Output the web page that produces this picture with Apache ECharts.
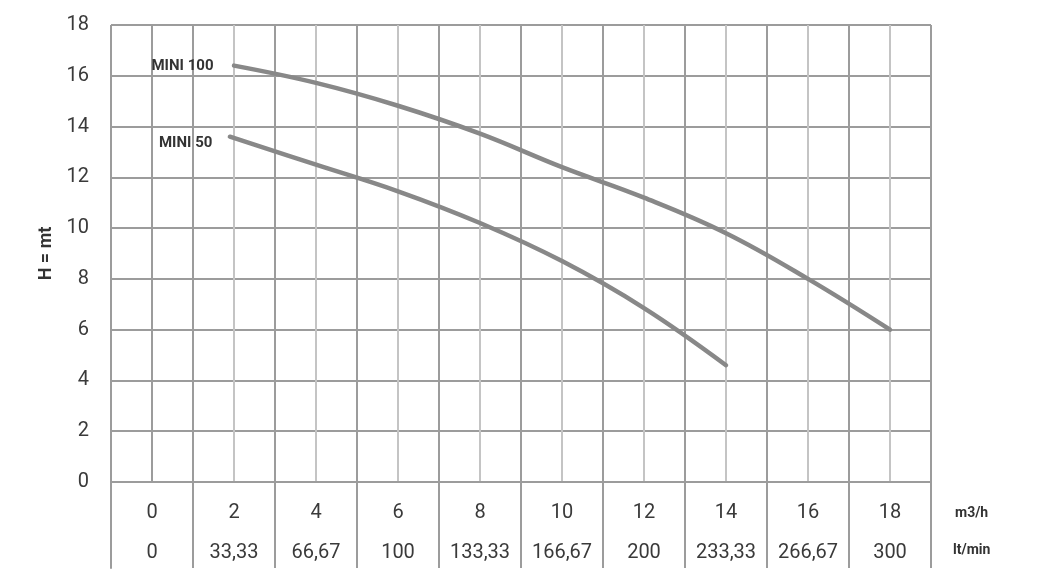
<!DOCTYPE html>
<html>
<head>
<meta charset="utf-8">
<script src="https://cdn.jsdelivr.net/npm/echarts@6/dist/echarts.min.js"></script>
<style>
html,body{margin:0;padding:0;background:#fff;}
#c{width:1053px;height:586px;}
</style>
</head>
<body>
<div id="c"></div>
<script>
// ---- data ----
const flowM3h = ['0','2','4','6','8','10','12','14','16','18'];
const flowLtMin = ['0','33,33','66,67','100','133,33','166,67','200','233,33','266,67','300'];
const seriesNames = ['MINI 100', 'MINI 50'];
const mini100Q = [2, 4, 6, 8, 10, 12, 14, 16, 18];
const mini100H = [16.4, 15.72, 14.82, 13.72, 12.4, 11.2, 9.8, 8.0, 6.0];
const mini50Q = [1.9, 4, 6, 8, 10, 12, 14];
const mini50H = [13.6, 12.5, 11.45, 10.2, 8.7, 6.85, 4.6];
const unitM3h = 'm3/h';
const unitLtMin = 'lt/min';
const yTitle = 'H = mt';

const FONT = 'Roboto';
const gridMajor = '#9c9c9c';
const gridMinor = '#c4c4c4';
const curveColor = '#888888';
const textColor = '#3a3a3a';

function buildData(qs, hs, name, dist, offset) {
  return qs.map((q, i) => {
    if (i === 0) {
      return {
        value: [q, hs[i]],
        label: {
          show: true, position: 'left', distance: dist, offset: offset, formatter: name,
          color: '#333', fontFamily: FONT, fontWeight: 'bold', fontSize: 15
        }
      };
    }
    return {value: [q, hs[i]], label: {show: false}};
  });
}

const chart = echarts.init(document.getElementById('c'), null, {renderer: 'canvas'});
chart.setOption({
  animation: false,
  backgroundColor: '#fff',
  grid: [
    {left: 111, right: 122, top: 25, bottom: 104},
    {left: 111, right: 122, top: 482, height: 86}
  ],
  xAxis: [
    {
      type: 'value', gridIndex: 0, min: -1, max: 19, interval: 1, position: 'bottom',
      axisLine: {show: true, lineStyle: {color: gridMajor, width: 2}},
      axisTick: {show: false}, axisLabel: {show: false},
      splitLine: {show: true, lineStyle: {color: gridMinor, width: 2}}
    },
    {
      type: 'category', gridIndex: 0, data: flowM3h, position: 'top', boundaryGap: true,
      axisLine: {show: false}, axisTick: {show: false}, axisLabel: {show: false},
      splitLine: {show: true, lineStyle: {color: gridMajor, width: 2}}
    },
    {
      type: 'category', gridIndex: 1, data: flowM3h, position: 'top', boundaryGap: true,
      axisLine: {show: false}, axisTick: {show: false},
      axisLabel: {show: true, inside: true, margin: 21, color: textColor, fontFamily: FONT, fontSize: 20},
      splitLine: {show: true, lineStyle: {color: gridMajor, width: 2}}
    },
    {
      type: 'category', gridIndex: 1, data: flowLtMin, position: 'bottom', boundaryGap: true,
      axisLine: {show: false}, axisTick: {show: false},
      axisLabel: {show: true, inside: true, margin: 5, color: textColor, fontFamily: FONT, fontSize: 20},
      splitLine: {show: false}
    }
  ],
  yAxis: [
    {
      type: 'value', gridIndex: 0, min: 0, max: 18, interval: 2,
      axisLine: {show: true, lineStyle: {color: gridMajor, width: 2}},
      axisTick: {show: false},
      axisLabel: {margin: 22, color: textColor, fontFamily: FONT, fontSize: 20},
      splitLine: {show: true, lineStyle: {color: gridMajor, width: 2}},
      name: yTitle, nameLocation: 'middle', nameGap: 56, nameRotate: 90,
      nameTextStyle: {color: '#333', fontFamily: FONT, fontWeight: 'bold', fontSize: 18}
    },
    {
      type: 'value', gridIndex: 1, min: 0, max: 1, position: 'left',
      axisLine: {show: true, lineStyle: {color: gridMajor, width: 2}},
      axisTick: {show: false}, axisLabel: {show: false}, splitLine: {show: false}
    }
  ],
  series: [
    {
      name: seriesNames[0], type: 'line', xAxisIndex: 0, yAxisIndex: 0,
      data: buildData(mini100Q, mini100H, seriesNames[0], 20, [0, 1]),
      smooth: 0.4, showSymbol: true, symbol: 'circle', symbolSize: 1,
      itemStyle: {color: curveColor},
      lineStyle: {color: curveColor, width: 4.5, cap: 'round'}
    },
    {
      name: seriesNames[1], type: 'line', xAxisIndex: 0, yAxisIndex: 0,
      data: buildData(mini50Q, mini50H, seriesNames[1], 17, [0, 7]),
      smooth: 0.4, showSymbol: true, symbol: 'circle', symbolSize: 1,
      itemStyle: {color: curveColor},
      lineStyle: {color: curveColor, width: 4.5, cap: 'round'}
    }
  ],
  graphic: [
    {type: 'text', left: 955, top: 506, style: {text: unitM3h, fill: '#333', font: 'bold 14px Roboto'}},
    {type: 'text', left: 953, top: 543, style: {text: unitLtMin, fill: '#333', font: 'bold 14px Roboto'}}
  ]
});
</script>
</body>
</html>
